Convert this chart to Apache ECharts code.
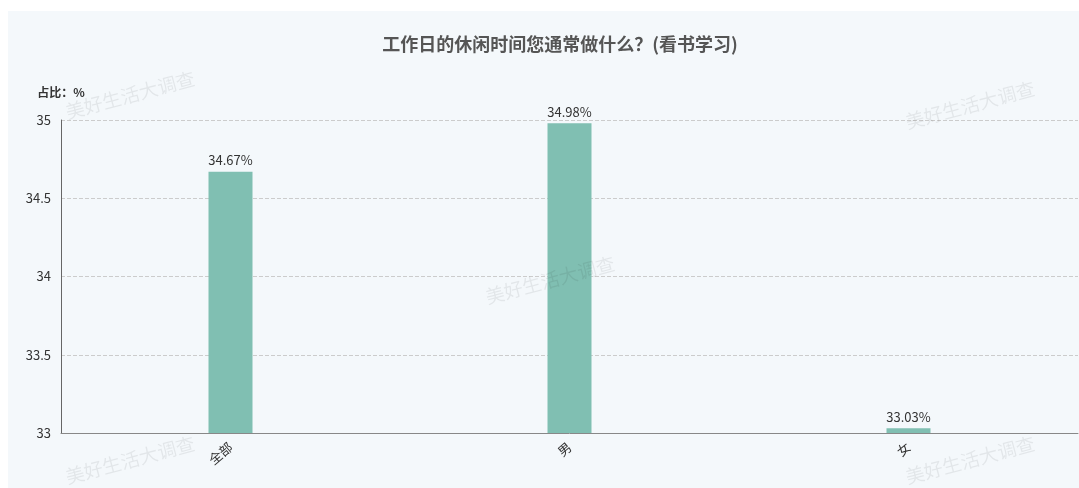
<!DOCTYPE html>
<html><head><meta charset="utf-8">
<script src="https://cdn.jsdelivr.net/npm/echarts@6/dist/echarts.min.js"></script>
<style>html,body{margin:0;padding:0;background:#fff;}#c{position:absolute;left:8px;top:11px;width:1071px;height:477px;}</style>
</head><body><div id="c"></div>
<script>
const categories = ['全部', '男', '女'];
const values = [34.67, 34.98, 33.03];
const yTicks = [33, 33.5, 34, 34.5, 35];
const watermark = '美好生活大调查';
const chart = echarts.init(document.getElementById('c'));
const wmPos = [[122, 84], [962, 94], [542, 269], [122, 449], [962, 449]];
chart.setOption({
  backgroundColor: '#f4f8fb',
  textStyle: { fontFamily: '"Noto Sans CJK SC", sans-serif' },
  title: { text: '工作日的休闲时间您通常做什么？(看书学习)', left: 547, textAlign: 'center', top: 19,
    textStyle: { fontSize: 18, fontWeight: 'bold', color: '#555' } },
  graphic: wmPos.map(p => ({ type: 'text', x: p[0], y: p[1], rotation: Math.PI / 12, z: 100,
    style: { text: watermark, fill: 'rgba(0,0,0,0.07)', font: '19px "Noto Sans CJK SC"', align: 'center', verticalAlign: 'middle' } })),
  grid: { left: 53, right: 1, top: 109, bottom: 55 },
  xAxis: { type: 'category', data: categories,
    axisLine: { lineStyle: { color: '#888' } }, axisTick: { show: false },
    axisLabel: { rotate: 40, color: '#333', fontSize: 13, margin: 12 } },
  yAxis: { type: 'value', min: yTicks[0], max: yTicks[yTicks.length - 1], interval: 0.5,
    name: '占比：%', nameGap: 22, nameTextStyle: { color: '#333', fontSize: 12, fontWeight: 'bold' },
    axisLine: { show: true, lineStyle: { color: '#666' } }, axisTick: { show: false },
    axisLabel: { color: '#333', fontSize: 13, margin: 10 },
    splitLine: { lineStyle: { type: 'dashed', color: '#ccc' } } },
  series: [{ type: 'bar', data: values, barWidth: 44,
    itemStyle: { color: '#80bfb2' },
    label: { show: true, position: 'top', color: '#333', fontSize: 13, formatter: p => p.value.toFixed(2) + '%' } }]
});
</script></body></html>
